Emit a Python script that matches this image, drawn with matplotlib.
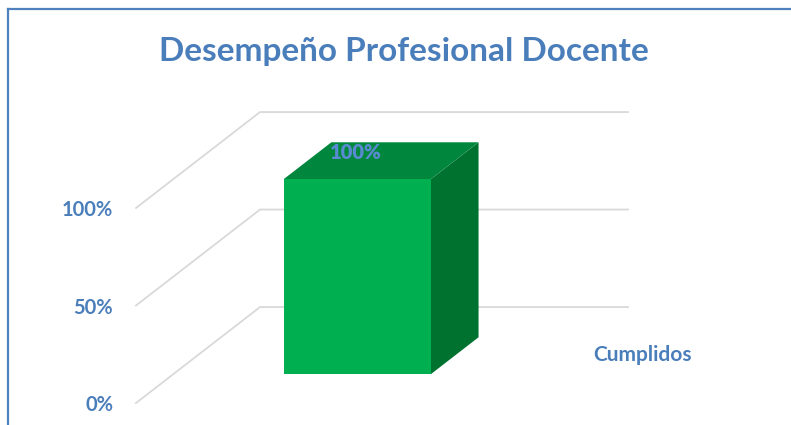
import matplotlib.pyplot as plt
from matplotlib.patches import Polygon
from matplotlib.lines import Line2D

plt.rcParams['font.family'] = ['Lato', 'DejaVu Sans']

# data
title = "Desempeño Profesional Docente"
categories = ["Cumplidos"]
values = [1.0]
value_labels = ["100%"]
y_ticks = [0, 0.5, 1.0]
y_tick_labels = ["0%", "50%", "100%"]

BLUE = "#4A7EBB"
LABEL_BLUE = "#5A8BD2"
FRONT = "#00B050"
TOP = "#00873D"
SIDE = "#007230"
GRID = "#D9D9D9"

W, H = 791, 425
fig = plt.figure(figsize=(W / 100, H / 100), dpi=100)

# axes = front plane of the 3d box
ax = fig.add_axes([136 / W, 22 / H, 368 / W, 195 / H])
ax.set_xlim(-0.5, len(categories) - 0.5)
ax.set_ylim(0, 1)
for s in ax.spines.values():
    s.set_visible(False)
ax.set_facecolor("none")

# oblique depth direction, in data units of the front plane
DX, DY = 0.337, 0.492


def proj(x, d, z):
    return (x + d * DX, z + d * DY)


# side wall + back wall gridlines
x_left, x_right = ax.get_xlim()
for v in y_ticks:
    pts = [proj(x_left, 0, v), proj(x_left, 1, v), proj(x_right, 1, v)]
    ax.plot([p[0] for p in pts], [p[1] for p in pts], color=GRID, lw=1.3,
            clip_on=False, zorder=1, solid_joinstyle='miter')

# bars
half_w = 0.2
d0, d1 = 0.30, 0.685
for i, (cat, v) in enumerate(zip(categories, values)):
    x0, x1 = i - half_w, i + half_w
    front = [proj(x0, d0, 0), proj(x1, d0, 0), proj(x1, d0, v), proj(x0, d0, v)]
    top = [proj(x0, d0, v), proj(x1, d0, v), proj(x1, d1, v), proj(x0, d1, v)]
    side = [proj(x1, d0, 0), proj(x1, d1, 0), proj(x1, d1, v), proj(x1, d0, v)]
    for poly, col in [(side, SIDE), (top, TOP), (front, FRONT)]:
        ax.add_patch(Polygon(poly, closed=True, facecolor=col, edgecolor='none',
                             clip_on=False, zorder=3))
    ax.annotate(value_labels[i], xy=proj(i, d0, v), xytext=(-1, 19),
                textcoords='offset points', ha='center', va='center',
                fontsize=14.5, weight='heavy', color=LABEL_BLUE, zorder=5,
                annotation_clip=False)
    # category label sits out to the right, as in the original
    ax.text(i + 0.875, 0.246, cat, ha='center', va='center',
            fontsize=15, fontweight='bold', color=BLUE)

ax.set_xticks([])
ax.set_yticks(y_ticks, y_tick_labels)
ax.tick_params(axis='y', length=0, pad=16.5, labelsize=14.5, labelcolor=BLUE)
for lab in ax.get_yticklabels():
    lab.set_fontweight('bold')

fig.text(404 / W, 1 - 52 / H, title, ha='center', va='center',
         fontsize=24, fontweight='bold', color=BLUE)

# frame of the chart area (only left and top are visible)
fig.add_artist(Line2D([8 / W, 8 / W], [0, 1 - 9 / H], color="#4F81BD", lw=1.6,
                      transform=fig.transFigure))
fig.add_artist(Line2D([8 / W, 1], [1 - 9 / H, 1 - 9 / H], color="#4F81BD", lw=1.6,
                      transform=fig.transFigure))

fig.savefig("out.png", dpi=100)
